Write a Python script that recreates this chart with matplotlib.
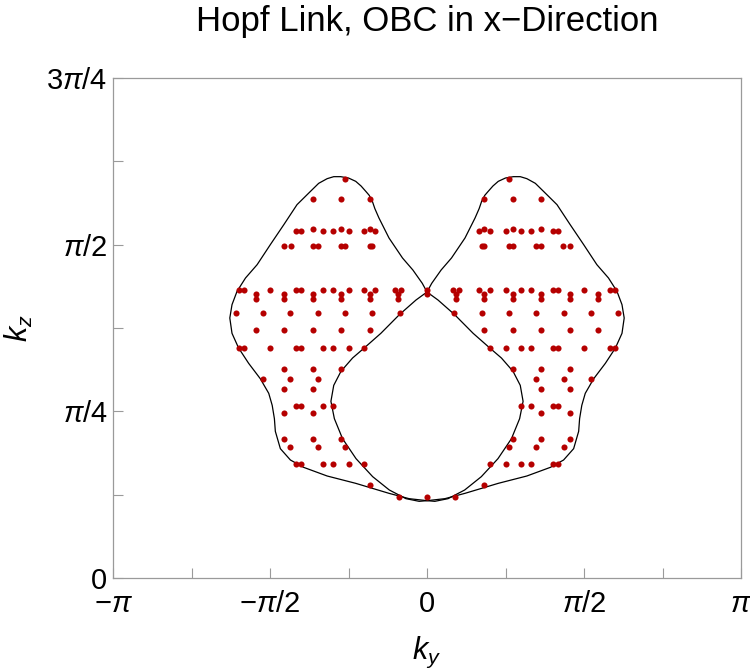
import matplotlib
matplotlib.use("Agg")
import matplotlib.pyplot as plt
import numpy as np

plt.rcParams['font.family'] = ['Liberation Sans', 'DejaVu Sans']
plt.rcParams['mathtext.fontset'] = 'custom'
plt.rcParams['mathtext.rm'] = 'Liberation Sans'
plt.rcParams['mathtext.it'] = 'Liberation Sans:italic'

# all values in units of pi
# red dots, one list of ky per kz row
row_kz = [0.598, 0.569, 0.524, 0.520, 0.498, 0.432, 0.426, 0.419, 0.398, 0.372, 0.345,
          0.313, 0.298, 0.283, 0.258, 0.247, 0.208, 0.197, 0.171, 0.140, 0.122]
row_ky = [
    [-0.261, 0.261],
    [-0.364, -0.273, -0.182, 0.182, 0.273, 0.364],
    [-0.364, -0.273, -0.182, 0.182, 0.273, 0.364],
    [-0.416, -0.400, -0.332, -0.300, -0.250, -0.200, -0.167, 0.167, 0.200, 0.250, 0.300, 0.332, 0.400, 0.416],
    [-0.454, -0.434, -0.364, -0.348, -0.273, -0.261, -0.182, -0.174, 0.174, 0.182, 0.261, 0.273, 0.348, 0.364, 0.434, 0.454],
    [-0.600, -0.582, -0.499, -0.416, -0.400, -0.332, -0.300, -0.250, -0.200, -0.167, -0.101, -0.084, 0.0,
     0.084, 0.101, 0.167, 0.200, 0.250, 0.300, 0.332, 0.400, 0.416, 0.499, 0.582, 0.600],
    [-0.544, -0.454, -0.364, -0.273, -0.182, -0.091, 0.0, 0.091, 0.182, 0.273, 0.364, 0.454, 0.544],
    [-0.544, -0.454, -0.364, -0.273, -0.182, -0.091, 0.091, 0.182, 0.273, 0.364, 0.454, 0.544],
    [-0.607, -0.522, -0.435, -0.348, -0.261, -0.174, -0.087, 0.087, 0.174, 0.261, 0.348, 0.435, 0.522, 0.607],
    [-0.544, -0.454, -0.364, -0.273, -0.182, 0.182, 0.273, 0.364, 0.454, 0.544],
    [-0.600, -0.582, -0.499, -0.416, -0.400, -0.332, -0.300, -0.250, -0.200,
     0.200, 0.250, 0.300, 0.332, 0.400, 0.416, 0.499, 0.582, 0.600],
    [-0.454, -0.364, -0.273, 0.273, 0.364, 0.454],
    [-0.522, -0.435, -0.348, 0.348, 0.435, 0.522],
    [-0.454, -0.364, 0.364, 0.454],
    [-0.416, -0.400, -0.332, -0.300, 0.300, 0.332, 0.400, 0.416],
    [-0.454, -0.364, 0.364, 0.454],
    [-0.454, -0.364, -0.273, 0.273, 0.364, 0.454],
    [-0.435, -0.348, -0.261, 0.261, 0.348, 0.435],
    [-0.416, -0.400, -0.332, -0.300, -0.250, -0.200, 0.200, 0.250, 0.300, 0.332, 0.400, 0.416],
    [-0.182, 0.182],
    [-0.090, 0.0, 0.090],
]

# black outline: two closed loops
loop_a_ky = [0.000, -0.015, -0.045, -0.078, -0.121, -0.153, -0.166, -0.174, -0.184, -0.195,
             -0.210, -0.227, -0.250, -0.275, -0.297, -0.318, -0.345, -0.371, -0.414, -0.456,
             -0.499, -0.541, -0.578, -0.605, -0.621, -0.628, -0.621, -0.600, -0.568, -0.531,
             -0.504, -0.493, -0.486, -0.483, -0.467, -0.435, -0.393, -0.318, -0.227, -0.121,
             -0.057, 0.000, 0.025, 0.067, 0.120, 0.173, 0.226, 0.269, 0.295, 0.306,
             0.297, 0.274, 0.237, 0.200, 0.147, 0.088, 0.035, 0.000]
loop_a_kz = [0.429, 0.442, 0.462, 0.480, 0.510, 0.540, 0.554, 0.565, 0.574, 0.580,
             0.588, 0.595, 0.600, 0.602, 0.602, 0.599, 0.592, 0.580, 0.560, 0.530,
             0.500, 0.470, 0.450, 0.430, 0.410, 0.390, 0.367, 0.345, 0.322, 0.299,
             0.277, 0.259, 0.239, 0.220, 0.194, 0.177, 0.166, 0.153, 0.142, 0.127,
             0.119, 0.116, 0.115, 0.119, 0.132, 0.152, 0.179, 0.209, 0.239, 0.265,
             0.289, 0.310, 0.330, 0.345, 0.367, 0.395, 0.417, 0.429]
loop_b_ky = [0.000, 0.015, 0.045, 0.078, 0.121, 0.153, 0.166, 0.174, 0.184, 0.195,
             0.210, 0.227, 0.250, 0.275, 0.297, 0.318, 0.345, 0.371, 0.414, 0.456,
             0.499, 0.541, 0.578, 0.605, 0.621, 0.628, 0.621, 0.600, 0.568, 0.531,
             0.504, 0.493, 0.486, 0.483, 0.467, 0.435, 0.393, 0.318, 0.227, 0.121,
             0.057, 0.000, -0.025, -0.067, -0.120, -0.173, -0.226, -0.269, -0.295, -0.306,
             -0.297, -0.274, -0.237, -0.200, -0.147, -0.088, -0.035, 0.000]
loop_b_kz = list(loop_a_kz)

xtick_pos = [-1, -0.5, 0, 0.5, 1]
xtick_lab = [r'$-\pi$', r'$-\pi/2$', '0', r'$\pi/2$', r'$\pi$']
ytick_pos = [0, 0.25, 0.5, 0.75]
ytick_lab = ['0', r'$\pi/4$', r'$\pi/2$', r'$3\pi/4$']

fig = plt.figure(figsize=(7.5, 6.71), dpi=100)
ax = fig.add_axes([113/750, 1 - 578/671, 628/750, 500/671])

ax.plot(loop_a_ky, loop_a_kz, color='black', lw=0.9, zorder=2)
ax.plot(loop_b_ky, loop_b_kz, color='black', lw=0.9, zorder=2)

pts_x = []
pts_y = []
for kz, kys in zip(row_kz, row_ky):
    for ky in kys:
        pts_x.append(ky)
        pts_y.append(kz)
ax.plot(pts_x, pts_y, 'o', color='#b50000', markersize=4.4, markeredgewidth=0, zorder=3)

ax.set_xlim(-1, 1)
ax.set_ylim(0, 0.75)
ax.set_xticks(xtick_pos)
ax.set_xticklabels(xtick_lab)
ax.set_xticks(np.arange(-0.75, 1.0, 0.5), minor=True)
ax.set_yticks(ytick_pos)
ax.set_yticklabels(ytick_lab)
ax.set_yticks([0.125, 0.375, 0.625], minor=True)

frame = '#9a9a9a'
for s in ax.spines.values():
    s.set_color(frame)
    s.set_linewidth(0.9)
ax.tick_params(which='both', direction='in', length=7, width=0.8, color=frame,
               labelsize=21, labelcolor='black')
ax.tick_params(axis='x', pad=9)
ax.tick_params(axis='y', pad=4)

ax.set_xlabel(r'$k_y$', fontsize=22, labelpad=12)
ax.set_ylabel(r'$k_z$', fontsize=22, labelpad=8)
fig.text(427/750, 1 - 22/671, 'Hopf Link, OBC in x\u2212Direction', ha='center', va='center',
         fontsize=25)

fig.savefig('out.png', dpi=100)
